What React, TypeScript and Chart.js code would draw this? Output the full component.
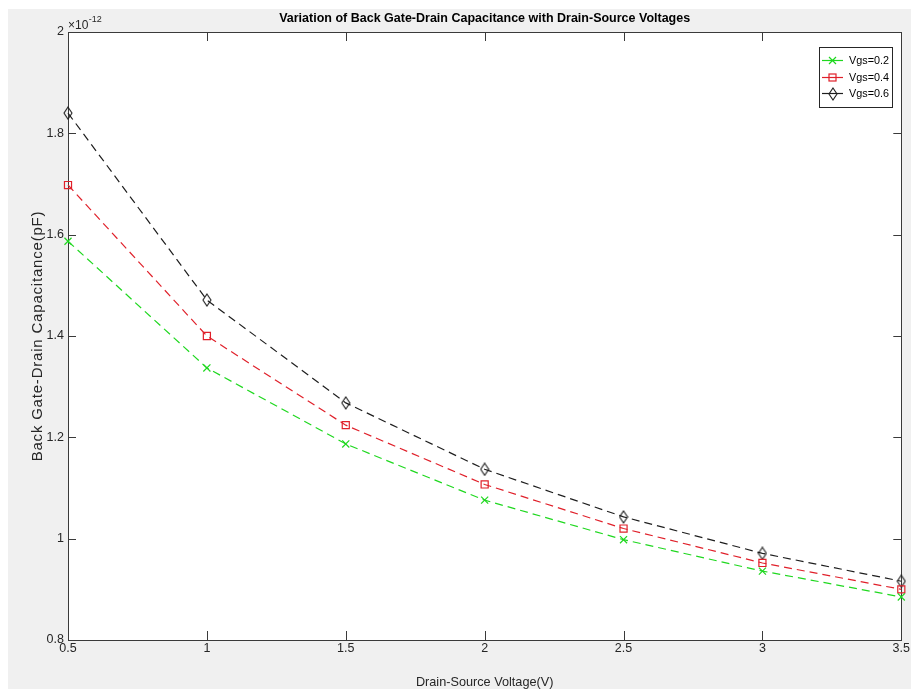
import React, { useEffect, useRef } from "react";
import { Chart, registerables } from "chart.js";

Chart.register(...registerables);

// ---- data (capacitance values in units of 1e-12 F) ----
const drainSourceVoltage = [0.5, 1, 1.5, 2, 2.5, 3, 3.5];
const capVgs02 = [1.587, 1.337, 1.187, 1.076, 0.998, 0.936, 0.885];
const capVgs04 = [1.698, 1.4, 1.224, 1.107, 1.02, 0.952, 0.9];
const capVgs06 = [1.84, 1.471, 1.268, 1.137, 1.043, 0.971, 0.916];
const seriesLabels = ["Vgs=0.2", "Vgs=0.4", "Vgs=0.6"];
const xTickRange = [0.5, 3.5, 0.5]; // min, max, step
const yTickRange = [0.8, 2, 0.2]; // min, max, step
const exponentText = "-12";
const titleText = "Variation of Back Gate-Drain Capacitance with Drain-Source Voltages";
const xLabelText = "Drain-Source Voltage(V)";
const yLabelText = "Back Gate-Drain Capacitance(pF)";

const FONT = "'Liberation Sans', Arial, Helvetica, sans-serif";
const GREEN = "#1fd81f";
const RED = "#e0202a";
const BLACK = "#1e1e1e";
const AXIS = "#3a3a3a";

function fmtTick(v: any) {
  return String(Number(Number(v).toFixed(3)));
}

function makeDiamond(color: string) {
  const c = document.createElement("canvas");
  c.width = 10;
  c.height = 14;
  const g = c.getContext("2d")!;
  g.strokeStyle = color;
  g.lineWidth = 1.1;
  g.beginPath();
  g.moveTo(5, 1);
  g.lineTo(9, 7);
  g.lineTo(5, 13);
  g.lineTo(1, 7);
  g.closePath();
  g.stroke();
  return c;
}

function drawMarker(ctx: CanvasRenderingContext2D, kind: string, x: number, y: number, color: string, diamond: HTMLCanvasElement) {
  ctx.save();
  ctx.strokeStyle = color;
  ctx.lineWidth = 1.2;
  ctx.setLineDash([]);
  if (kind === "cross") {
    const d = 3.5;
    ctx.beginPath();
    ctx.moveTo(x - d, y - d);
    ctx.lineTo(x + d, y + d);
    ctx.moveTo(x - d, y + d);
    ctx.lineTo(x + d, y - d);
    ctx.stroke();
  } else if (kind === "rect") {
    ctx.strokeRect(x - 3.5, y - 3.5, 7, 7);
  } else {
    ctx.drawImage(diamond, Math.round(x - diamond.width / 2), Math.round(y - diamond.height / 2));
  }
  ctx.restore();
}

export default function App() {
  const canvasRef = useRef<HTMLCanvasElement | null>(null);

  useEffect(() => {
    const canvas = canvasRef.current;
    if (!canvas) return;
    const diamond = makeDiamond(BLACK);

    const seriesValues = [capVgs02, capVgs04, capVgs06];
    const colors = [GREEN, RED, BLACK];
    const markerKinds = ["cross", "rect", "diamond"];
    const pointStyles: any[] = ["crossRot", "rect", diamond];

    const datasets = seriesValues.map((vals, si) => ({
      label: seriesLabels[si],
      data: drainSourceVoltage.map((x, i) => ({ x, y: vals[i] })),
      borderColor: colors[si],
      backgroundColor: "rgba(0,0,0,0)",
      borderWidth: 1.2,
      borderDash: [8, 5],
      pointStyle: pointStyles[si],
      pointRadius: 5,
      pointBorderColor: colors[si],
      pointBackgroundColor: "rgba(0,0,0,0)",
      pointBorderWidth: 1.2,
      tension: 0,
      fill: false,
      clip: false as any,
    }));

    const decor = {
      id: "matlabDecor",
      beforeDraw(chart: any) {
        const { ctx, chartArea: a } = chart;
        ctx.save();
        ctx.fillStyle = "#ffffff";
        ctx.fillRect(a.left, a.top, a.right - a.left, a.bottom - a.top);
        ctx.restore();
      },
      beforeDatasetsDraw(chart: any) {
        const { ctx, chartArea: a, scales } = chart;
        ctx.save();
        ctx.strokeStyle = AXIS;
        ctx.lineWidth = 1;
        ctx.strokeRect(Math.round(a.left) + 0.5, Math.round(a.top) + 0.5, Math.round(a.right - a.left), Math.round(a.bottom - a.top));
        ctx.beginPath();
        scales.x.ticks.forEach((t: any) => {
          const px = Math.round(scales.x.getPixelForValue(t.value)) + 0.5;
          ctx.moveTo(px, a.bottom);
          ctx.lineTo(px, a.bottom - 9);
          ctx.moveTo(px, a.top);
          ctx.lineTo(px, a.top + 9);
        });
        scales.y.ticks.forEach((t: any) => {
          const py = Math.round(scales.y.getPixelForValue(t.value)) + 0.5;
          ctx.moveTo(a.left, py);
          ctx.lineTo(a.left + 8, py);
          ctx.moveTo(a.right, py);
          ctx.lineTo(a.right - 8, py);
        });
        ctx.stroke();
        ctx.restore();
      },
      afterDraw(chart: any) {
        const { ctx, chartArea: a } = chart;
        const cx = (a.left + a.right) / 2;
        const cy = (a.top + a.bottom) / 2;
        ctx.save();
        // title
        ctx.fillStyle = "#000000";
        ctx.font = `bold 12.5px ${FONT}`;
        ctx.textAlign = "center";
        ctx.textBaseline = "middle";
        ctx.fillText(titleText, cx, 9.5);
        // x label
        ctx.fillStyle = "#262626";
        ctx.font = `12.7px ${FONT}`;
        ctx.fillText(xLabelText, cx, 673);
        // y label
        ctx.save();
        ctx.translate(29.5, cy);
        ctx.rotate(-Math.PI / 2);
        ctx.font = `15px ${FONT}`;
        try {
          (ctx as any).letterSpacing = "0.8px";
        } catch (e) {}
        ctx.fillText(yLabelText, 0, 0);
        ctx.restore();
        // exponent
        ctx.textAlign = "left";
        ctx.textBaseline = "alphabetic";
        ctx.fillStyle = "#262626";
        ctx.font = `12px ${FONT}`;
        const base = "\u00d710";
        ctx.fillText(base, a.left, 19.5);
        const w = ctx.measureText(base).width;
        ctx.font = `9px ${FONT}`;
        ctx.fillText(exponentText, a.left + w + 0.5, 13);
        // legend
        const lx = 811, ly = 38, lw = 73, lh = 60;
        ctx.fillStyle = "#ffffff";
        ctx.fillRect(lx, ly, lw, lh);
        ctx.strokeStyle = "#262626";
        ctx.lineWidth = 1;
        ctx.strokeRect(lx + 0.5, ly + 0.5, lw, lh);
        ctx.font = `11.5px ${FONT}`;
        ctx.textBaseline = "middle";
        seriesLabels.forEach((lab, i) => {
          const y = Math.round(ly + 13 + i * 16.5) + 0.5;
          ctx.strokeStyle = colors[i];
          ctx.lineWidth = 1.2;
          ctx.beginPath();
          ctx.moveTo(lx + 3, y);
          ctx.lineTo(lx + 24, y);
          ctx.stroke();
          drawMarker(ctx, markerKinds[i], lx + 13.5, y, colors[i], diamond);
          ctx.fillStyle = "#000000";
          ctx.fillText(lab, lx + 30, y, 40);
        });
        ctx.restore();
      },
    };

    const chart = new Chart(canvas, {
      type: "line",
      data: { datasets: datasets as any },
      options: {
        animation: false,
        responsive: false,
        devicePixelRatio: 1,
        layout: { padding: { top: 23, right: 9, left: 0, bottom: 0 } },
        plugins: {
          legend: { display: false },
          title: { display: false },
          tooltip: { enabled: false },
        },
        scales: {
          x: {
            type: "linear",
            min: xTickRange[0],
            max: xTickRange[1],
            ticks: {
              stepSize: xTickRange[2],
              font: { size: 12.5, family: FONT },
              color: "#262626",
              padding: 1,
              maxRotation: 0,
              autoSkip: false,
              callback: fmtTick,
            },
            grid: { display: false, drawTicks: false },
            border: { display: false },
            afterFit: (s: any) => {
              s.height = 49;
            },
          },
          y: {
            type: "linear",
            min: yTickRange[0],
            max: yTickRange[1],
            ticks: {
              stepSize: yTickRange[2],
              font: { size: 12.5, family: FONT },
              color: "#262626",
              padding: 4,
              autoSkip: false,
              callback: fmtTick,
            },
            grid: { display: false, drawTicks: false },
            border: { display: false },
            afterFit: (s: any) => {
              s.width = 60;
            },
          },
        },
      } as any,
      plugins: [decor],
    });

    return () => chart.destroy();
  }, []);

  return (
    <div
      style={{
        position: "absolute",
        left: 8,
        top: 9,
        width: 903,
        height: 680,
        background: "#f0f0f0",
      }}
    >
      <canvas ref={canvasRef} width={903} height={680} style={{ display: "block", width: 903, height: 680 }} />
    </div>
  );
}
